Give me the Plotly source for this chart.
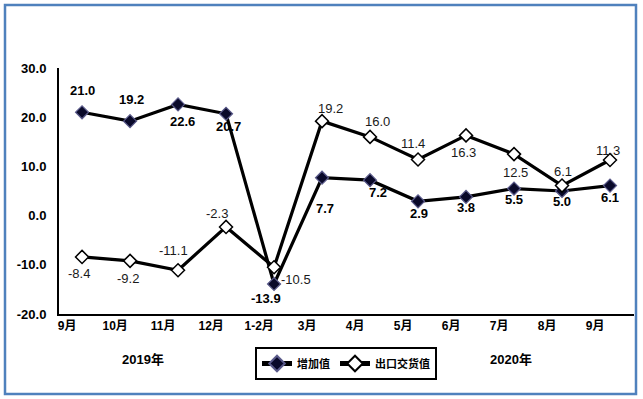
import plotly.graph_objects as go

categories = ["9月", "10月", "11月", "12月", "1-2月", "3月", "4月", "5月", "6月", "7月", "8月", "9月"]
added_value = [21.0, 19.2, 22.6, 20.7, -13.9, 7.7, 7.2, 2.9, 3.8, 5.5, 5.0, 6.1]
export_value = [-8.4, -9.2, -11.1, -2.3, -10.5, 19.2, 16.0, 11.4, 16.3, 12.5, 6.1, 11.3]
y_ticks = [-20, -10, 0, 10, 20, 30]
series_names = ["增加值", "出口交货值"]
year_labels = ["2019年", "2020年"]

# label offsets in pixels (dx, dy screen-down positive)
added_off = [(0, -22), (1, -22), (4, 17), (2, 13), (-8, 15), (3, 31), (8, 12),
             (1, 12), (0, 11), (0, 11), (0, 10), (0, 12)]
export_off = [(-3, 17), (-2, 18), (-5, -20), (-9, -13), (22, 12), (8, -13), (7, -15),
              (-5, -16), (-3, 17), (1, 18), (1, -14), (-2, -10)]

W, H = 643, 399
L, R, T, B = 59, 634, 68, 314
FONT = "Arial, Liberation Sans, Noto Sans CJK SC, sans-serif"

x = list(range(len(categories)))

fig = go.Figure()
fig.add_trace(go.Scatter(
    x=x, y=added_value, name=series_names[0], mode="lines+markers",
    line=dict(color="black", width=3.2),
    marker=dict(symbol="diamond", size=10, color="#0a0a2a",
                line=dict(color="#5a5a8a", width=1.2)),
))
fig.add_trace(go.Scatter(
    x=x, y=export_value, name=series_names[1], mode="lines+markers",
    line=dict(color="black", width=3.2),
    marker=dict(symbol="diamond", size=10, color="white",
                line=dict(color="black", width=1.5)),
))

annotations = []
for i, v in enumerate(added_value):
    dx, dy = added_off[i]
    annotations.append(dict(x=i, y=v, xref="x", yref="y", text=f"{v:.1f}",
                            showarrow=False, xshift=dx, yshift=-dy,
                            xanchor="center", yanchor="middle",
                            font=dict(family=FONT, size=13, color="black", weight="bold")))
for i, v in enumerate(export_value):
    dx, dy = export_off[i]
    annotations.append(dict(x=i, y=v, xref="x", yref="y", text=f"{v:.1f}",
                            showarrow=False, xshift=dx, yshift=-dy,
                            xanchor="center", yanchor="middle",
                            font=dict(family=FONT, size=13, color="#1a1a1a")))

pw, ph = R - L, B - T
def px_x(p):
    return (p - L) / pw
def px_y(p):
    return (B - p) / ph

for txt, cx in zip(year_labels, [143, 511]):
    annotations.append(dict(x=px_x(cx), y=px_y(359), xref="paper", yref="paper",
                            text=txt, showarrow=False, xanchor="center", yanchor="middle",
                            font=dict(family=FONT, size=13, color="black", weight="bold")))

fig.update_layout(
    width=W, height=H,
    margin=dict(l=L, r=W - R, t=T, b=H - B),
    paper_bgcolor="white", plot_bgcolor="white",
    font=dict(family=FONT, color="black"),
    showlegend=True,
    legend=dict(orientation="h", x=px_x(255), y=px_y(347), xanchor="left", yanchor="top",
                bordercolor="black", borderwidth=2, bgcolor="white",
                font=dict(family=FONT, size=11, color="black", weight="bold"),
                itemsizing="constant", tracegroupgap=0, itemwidth=30),
    annotations=annotations,
    shapes=[dict(type="rect", xref="paper", yref="paper",
                 x0=px_x(5), x1=px_x(636), y0=px_y(394), y1=px_y(5),
                 line=dict(color="#4F81BD", width=2.5))],
)
fig.update_xaxes(range=[-0.48, 11.5], tickvals=[i - 0.31 for i in x], ticktext=categories,
                 showgrid=False, zeroline=False, showline=True, linecolor="black", linewidth=2,
                 ticks="", tickfont=dict(family=FONT, size=12, color="black", weight="bold"))
fig.update_yaxes(range=[-20, 30], tickvals=y_ticks, ticktext=[f"{t:.1f}" for t in y_ticks],
                 showgrid=False, zeroline=False, showline=True, linecolor="black", linewidth=2,
                 ticks="", ticklabelstandoff=8,
                 tickfont=dict(family=FONT, size=13, color="black", weight="bold"))

fig.write_html("out.html", config={"displayModeBar": False},
               post_script="document.body.style.margin='0';document.body.style.overflow='hidden';")
